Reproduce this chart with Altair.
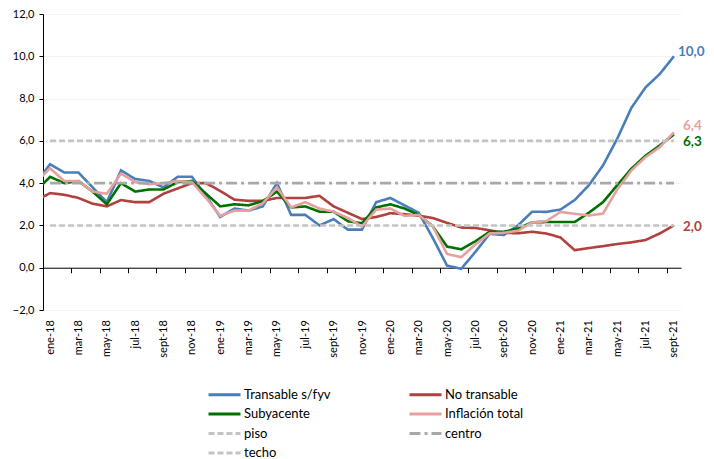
import json
import altair as alt
import pandas as pd

months = [
    "ene-18", "feb-18", "mar-18", "abr-18", "may-18", "jun-18", "jul-18", "ago-18", "sept-18", "oct-18", "nov-18", "dic-18",
    "ene-19", "feb-19", "mar-19", "abr-19", "may-19", "jun-19", "jul-19", "ago-19", "sept-19", "oct-19", "nov-19", "dic-19",
    "ene-20", "feb-20", "mar-20", "abr-20", "may-20", "jun-20", "jul-20", "ago-20", "sept-20", "oct-20", "nov-20", "dic-20",
    "ene-21", "feb-21", "mar-21", "abr-21", "may-21", "jun-21", "jul-21", "ago-21", "sept-21",
]

# value of dic-17 (only partly visible at the left edge)
prev_dic17 = {"Transable s/fyv": 4.0, "No transable": 3.17, "Subyacente": 3.62, "Inflación total": 4.04}

transable = [4.9, 4.5, 4.5, 3.8, 3.1, 4.6, 4.2, 4.1, 3.8, 4.3, 4.3, 3.4,
             2.4, 2.8, 2.7, 2.9, 4.0, 2.5, 2.5, 2.0, 2.3, 1.8, 1.8, 3.1,
             3.3, 2.95, 2.6, 1.4, 0.1, -0.05, 0.75, 1.6, 1.55, 2.0, 2.65, 2.64,
             2.75, 3.2, 3.9, 4.84, 6.1, 7.56, 8.53, 9.16, 10.0]
no_transable = [3.53, 3.45, 3.3, 3.03, 2.9, 3.2, 3.1, 3.1, 3.5, 3.75, 4.0, 4.0,
                3.63, 3.22, 3.16, 3.16, 3.3, 3.3, 3.3, 3.4, 2.9, 2.6, 2.3, 2.4,
                2.58, 2.53, 2.46, 2.35, 2.12, 1.9, 1.88, 1.77, 1.65, 1.63, 1.7, 1.62,
                1.43, 0.83, 0.93, 1.02, 1.12, 1.2, 1.31, 1.62, 2.0]
subyacente = [4.3, 4.0, 4.1, 3.6, 3.0, 4.0, 3.6, 3.7, 3.7, 4.05, 4.1, 3.5,
              2.9, 3.0, 2.95, 3.15, 3.6, 2.85, 2.9, 2.65, 2.65, 2.2, 2.1, 2.85,
              3.0, 2.8, 2.5, 1.95, 1.0, 0.87, 1.25, 1.7, 1.7, 1.85, 2.15, 2.16,
              2.16, 2.16, 2.6, 3.1, 3.9, 4.68, 5.3, 5.78, 6.3]
inflacion_total = [4.7, 4.1, 4.1, 3.6, 3.5, 4.45, 4.05, 3.95, 4.0, 4.1, 4.05, 3.3,
                   2.45, 2.7, 2.7, 3.05, 3.8, 2.85, 3.1, 2.8, 2.65, 2.35, 1.95, 2.75,
                   2.8, 2.45, 2.5, 1.95, 0.65, 0.5, 1.1, 1.62, 1.65, 1.75, 2.15, 2.2,
                   2.64, 2.55, 2.47, 2.56, 3.7, 4.6, 5.23, 5.7, 6.4]

piso_level = 2.0
centro_level = 4.0
techo_level = 6.0

# drawing order (later on top)
draw_order = ["Transable s/fyv", "No transable", "Subyacente", "Inflación total", "piso", "centro", "techo"]
# legend order (legend fills column by column)
legend_order = ["Transable s/fyv", "Subyacente", "piso", "techo", "No transable", "Inflación total", "centro"]
style = {
    "Transable s/fyv": ("#4a7ebb", [1, 0]),
    "No transable": ("#b0413e", [1, 0]),
    "Subyacente": ("#007000", [1, 0]),
    "Inflación total": ("#e6a19f", [1, 0]),
    "piso": ("#c3c3c3", [6, 3]),
    "centro": ("#a8a8a8", [11, 4, 3, 4]),
    "techo": ("#c3c3c3", [6, 3]),
}
colors = [style[n][0] for n in legend_order]
dashes = [style[n][1] for n in legend_order]

series = {
    "Transable s/fyv": transable,
    "No transable": no_transable,
    "Subyacente": subyacente,
    "Inflación total": inflacion_total,
}
levels = {"piso": piso_level, "centro": centro_level, "techo": techo_level}

rows = []
for name, vals in series.items():
    rows.append({"idx": -1, "value": prev_dic17[name], "serie": name})
    for i, v in enumerate(vals):
        rows.append({"idx": i, "value": v, "serie": name})
for name, lv in levels.items():
    for i in range(len(months)):
        rows.append({"idx": i, "value": lv, "serie": name})
df = pd.DataFrame(rows)

FONT = "Lato"
W, H = 638, 296
ymin, ymax = -2, 12
zero_offset = -(H * (0 - ymin) / (ymax - ymin))

legend = alt.Legend(
    orient="none", legendX=175, legendY=374, columns=2, columnPadding=72,
    symbolType="M-4,0H4", symbolSize=64, symbolStrokeWidth=3,
    labelFont=FONT, labelFontSize=13, labelColor="#000000", labelOffset=13,
    rowPadding=5.5, title=None,
)

x_enc = alt.X(
    "idx:Q",
    scale=alt.Scale(domain=[-0.5, len(months) - 0.5], nice=False, zero=False),
    axis=alt.Axis(
        values=[i - 0.5 for i in range(0, len(months), 2)],
        labelExpr=json.dumps(months) + "[round(datum.value + 0.5)]",
        labelAngle=-90, labelOffset=W / len(months) / 2, labelOverlap=False,
        offset=zero_offset, tickSize=5, labelPadding=47,
        domainColor="#000000", tickColor="#000000", grid=False,
        labelFont=FONT, labelFontSize=11, labelColor="#000000", title=None,
    ),
)
y_enc = alt.Y(
    "value:Q",
    scale=alt.Scale(domain=[ymin, ymax], nice=False, zero=False),
    axis=alt.Axis(
        values=list(range(ymin, ymax + 1, 2)),
        labelExpr="replace(format(datum.value, '.1f'), '.', ',')",
        tickSize=4, labelPadding=5, domainColor="#000000", tickColor="#000000",
        gridColor="#f3f3f3", labelFont=FONT, labelFontSize=11, labelColor="#000000", title=None,
    ),
)

base = alt.Chart(df).mark_line(clip=True, strokeWidth=2.6).encode(
    x=x_enc,
    y=y_enc,
    color=alt.Color("serie:N", scale=alt.Scale(domain=legend_order, range=colors), legend=legend),
    strokeDash=alt.StrokeDash("serie:N", scale=alt.Scale(domain=legend_order, range=dashes), legend=legend),
)

layers = [base.transform_filter(alt.datum.serie == n) for n in draw_order]

end_style = {
    "Transable s/fyv": (4, -4, "#4a7ebb"),
    "Inflación total": (9, -6, "#e6a19f"),
    "Subyacente": (9, 7.5, "#007000"),
    "No transable": (9, 1.5, "#b0413e"),
}
for name, (dx, dy, col) in end_style.items():
    last = pd.DataFrame([{"idx": len(months) - 1, "value": series[name][-1]}])
    layers.append(
        alt.Chart(last).transform_calculate(
            lab="replace(format(datum.value, '.1f'), '.', ',')"
        ).mark_text(
            align="left", baseline="middle", dx=dx, dy=dy, font=FONT,
            fontSize=13.5, fontWeight="bold", color=col,
        ).encode(x=x_enc, y=y_enc, text="lab:N")
    )

chart = alt.layer(*layers).properties(
    width=W, height=H,
    autosize=alt.AutoSizeParams(type="none"),
    padding={"left": 35, "top": 6, "right": 25, "bottom": 149},
    background="#ffffff",
).configure_view(stroke=None)

chart.save("out.html", embed_options={"renderer": "svg", "actions": False})
